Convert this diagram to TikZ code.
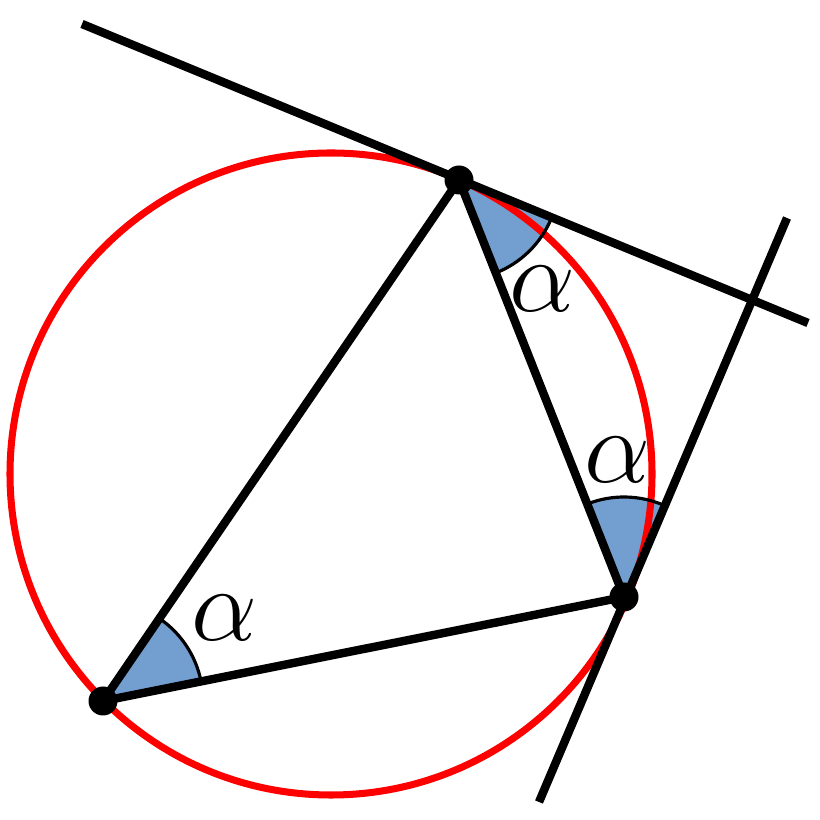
\documentclass[tikz,border=0pt]{standalone}
\usepackage{graphicx}
\usetikzlibrary{angles}
\definecolor{angfill}{HTML}{729FCF}
\newcommand{\alphalab}{\scalebox{1.2}{$\alpha$}}
\begin{document}
\begin{tikzpicture}[
  blk/.style={line width=2.4pt, black},
  circ/.style={line width=2pt, red},
  dot/.style={circle, fill=black, inner sep=0pt, minimum size=0.29cm},
  lab/.style={font=\fontsize{24.88}{30}\selectfont, inner sep=0pt},
  sect/.style={fill=angfill, angle radius=1cm},
  sarc/.style={draw=black, line width=0.9pt, angle radius=1cm}
]
\useasboundingbox[fill=white] (0,0) rectangle (8.2,8.2);
\coordinate (O) at (3.31,3.46);
\coordinate (A) at (4.59,6.40);
\coordinate (B) at (6.24,2.23);
\coordinate (C) at (1.03,1.19);
\coordinate (T1s) at (0.82,7.96);
\coordinate (T1e) at (8.08,4.97);
\coordinate (T2t) at (7.87,6.02);
\coordinate (T2b) at (5.39,0.18);
% sector fills
\pic[sect] {angle=B--C--A};
\pic[sect] {angle=B--A--T1e};
\pic[sect] {angle=T2t--B--A};
% circle
\draw[circ] (O) circle (3.21);
% sector arcs
\pic[sarc] {angle=B--C--A};
\pic[sarc] {angle=B--A--T1e};
\pic[sarc] {angle=T2t--B--A};
% lines
\draw[blk] (T1s) -- (T1e);
\draw[blk] (T2t) -- (T2b);
\draw[blk] (A) -- (C);
\draw[blk] (A) -- (B);
\draw[blk] (C) -- (B);
\node[dot] (nA) at (A) {};
\node[dot] (nB) at (B) {};
\node[dot] (nC) at (C) {};
\node[lab] (la) at (5.43,5.31) {\alphalab};
\node[lab] (lb) at (6.17,3.60) {\alphalab};
\node[lab] (lc) at (2.25,2.02) {\alphalab};
\end{tikzpicture}
\end{document}
